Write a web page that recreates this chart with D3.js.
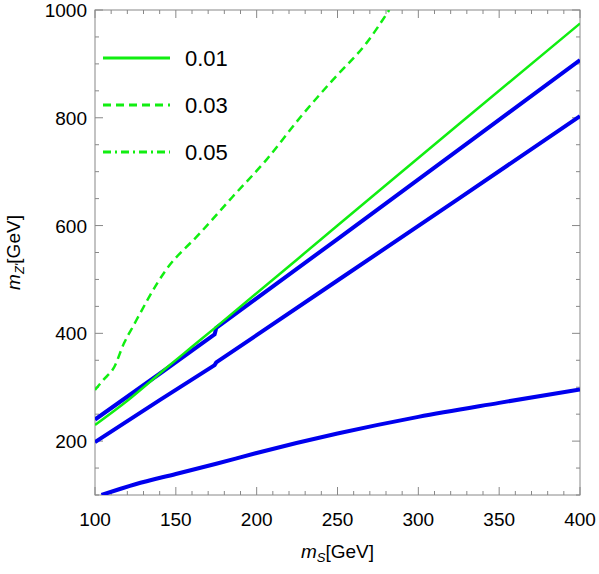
<!DOCTYPE html>
<html><head><meta charset="utf-8">
<script src="https://cdn.jsdelivr.net/npm/d3@7"></script>
<style>body{margin:0;background:#fff}text{font-family:"Liberation Sans",Arial,sans-serif}</style>
</head><body><svg id="chart" width="599" height="574"></svg>
<script>
// curves: [mS, mZ']
var green001 = [[100,230],[120,275],[145,338],[160,375],[175,412],[250,600],[325,788],[400,975]];
var green003 = [[100,295],[105,313],[112,338],[118,382],[123,410],[144,518],[165,586],[185,653],[206,722],[227,801],[247,870],[268,939],[282,1000]];
var blueUpper = [[100,240],[140,325],[174,398],[175,410],[250,575],[325,741],[400,907]];
var blueMiddle = [[100,198],[140,276],[174,341],[175,346],[250,498],[325,650],[400,803]];
var blueLower = [[104,100],[125,120],[150,139],[175,158],[200,178],[250,214],[300,245],[350,271],[400,296]];
var xTicks = [100,150,200,250,300,350,400];
var yTicks = [200,400,600,800,1000];
var legendLabels = ["0.01","0.03","0.05"];
var legendDash = [null,"8,5","8,4,2,4"];

var svg = d3.select("#chart");
var margin = {top: 10, right: 19, bottom: 79, left: 95};
var width = 599 - margin.left - margin.right,
    height = 574 - margin.top - margin.bottom;
var g = svg.append("g").attr("transform","translate(" + margin.left + "," + margin.top + ")");

var x = d3.scaleLinear().domain([100,400]).range([0,width]);
var y = d3.scaleLinear().domain([100,1000]).range([height,0]);

// frame + ticks
g.append("rect").attr("width",width).attr("height",height).attr("fill","none").attr("stroke","#888").attr("stroke-width",1);
var minorX = d3.range(100,401,10), minorY = d3.range(100,1001,50);
minorX.forEach(function(v){
  var len = v % 50 === 0 ? 8 : 4;
  g.append("line").attr("x1",x(v)).attr("x2",x(v)).attr("y1",height).attr("y2",height-len).attr("stroke","#888");
  g.append("line").attr("x1",x(v)).attr("x2",x(v)).attr("y1",0).attr("y2",len).attr("stroke","#888");
});
minorY.forEach(function(v){
  var len = v % 200 === 0 ? 8 : 4;
  g.append("line").attr("x1",0).attr("x2",len).attr("y1",y(v)).attr("y2",y(v)).attr("stroke","#888");
  g.append("line").attr("x1",width).attr("x2",width-len).attr("y1",y(v)).attr("y2",y(v)).attr("stroke","#888");
});
g.selectAll(".xl").data(xTicks).enter().append("text")
  .attr("x",d=>x(d)).attr("y",height+31).attr("text-anchor","middle").attr("font-size",19).text(d=>d);
g.selectAll(".yl").data(yTicks).enter().append("text")
  .attr("x",-8).attr("y",d=>y(d)+7).attr("text-anchor","end").attr("font-size",19).text(d=>d);

// axis titles
var xt = svg.append("text").attr("x",margin.left+width/2).attr("y",558).attr("text-anchor","middle").attr("font-size",19);
xt.append("tspan").attr("font-style","italic").text("m");
xt.append("tspan").attr("font-style","italic").attr("font-size",13).attr("dy",4).text("S");
xt.append("tspan").attr("dy",-4).text("[GeV]");
var yt = svg.append("text").attr("transform","translate(20,"+(margin.top+height/2)+") rotate(-90)").attr("text-anchor","middle").attr("font-size",19);
yt.append("tspan").attr("font-style","italic").text("m");
yt.append("tspan").attr("font-style","italic").attr("font-size",13).attr("dy",4).text("Z'");
yt.append("tspan").attr("dy",-4).text("[GeV]");

// curves
g.append("clipPath").attr("id","clip").append("rect").attr("width",width).attr("height",height);
var line = d3.line().x(d=>x(d[0])).y(d=>y(d[1]));
var smooth = d3.line().curve(d3.curveMonotoneX).x(d=>x(d[0])).y(d=>y(d[1]));
var plot = g.append("g").attr("clip-path","url(#clip)");
plot.append("path").datum(blueLower).attr("d",smooth).attr("fill","none").attr("stroke","#0000ee").attr("stroke-width",4);
[blueMiddle, blueUpper].forEach(function(d){
  plot.append("path").datum(d).attr("d",line).attr("fill","none").attr("stroke","#0000ee").attr("stroke-width",4);
});
plot.append("path").datum(green001).attr("d",smooth).attr("fill","none").attr("stroke","#11ee11").attr("stroke-width",2.5);
plot.append("path").datum(green003).attr("d",smooth).attr("fill","none").attr("stroke","#11ee11").attr("stroke-width",2.5).attr("stroke-dasharray","8,5");

// legend
legendLabels.forEach(function(l,i){
  var yy = 58 + i*47;
  svg.append("line").attr("x1",103).attr("x2",170).attr("y1",yy).attr("y2",yy)
    .attr("stroke","#11ee11").attr("stroke-width",3).attr("stroke-dasharray",legendDash[i]);
  svg.append("text").attr("x",185).attr("y",yy+8).attr("font-size",22).text(l);
});
</script></body></html>
